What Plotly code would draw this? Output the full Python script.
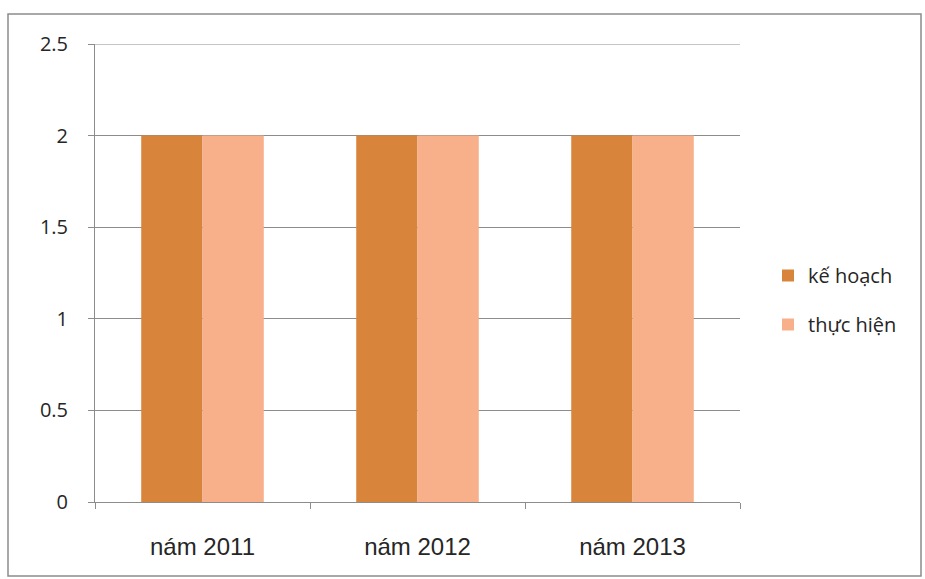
import plotly.graph_objects as go

categories = ["nám 2011", "nám 2012", "nám 2013"]
ke_hoach = [2, 2, 2]
thuc_hien = [2, 2, 2]
y_ticks = [0, 0.5, 1, 1.5, 2, 2.5]
y_tick_labels = ["0", "0.5", "1", "1.5", "2", "2.5"]

fig = go.Figure()
fig.add_trace(go.Bar(x=categories, y=ke_hoach, name="kế hoạch",
                     marker=dict(color="#D9843B", line=dict(width=0)),
                     legendgroup="a"))
fig.add_trace(go.Bar(x=categories, y=thuc_hien, name="thực hiện",
                     marker=dict(color="#F7B08A", line=dict(width=0)),
                     legendgroup="b"))

L, R, T, B = 95, 740, 44, 502
W, H = 925, 579
pw, ph = R - L, B - T

def px(x):
    return (x - L) / pw

def py(y):
    return (B - y) / ph

fig.update_layout(
    width=W, height=H,
    margin=dict(l=L, r=W - R, t=T, b=H - B, pad=0),
    paper_bgcolor="white", plot_bgcolor="white",
    barmode="group", bargap=0.43, bargroupgap=0,
    font=dict(family="Liberation Sans, Arial", color="#262626"),
    showlegend=True,
    legend=dict(x=px(768), y=py(300), xanchor="left", yanchor="middle",
                font=dict(size=20, family="Open Sans", color="#262626"),
                traceorder="grouped", tracegroupgap=20,
                itemwidth=30, bgcolor="rgba(0,0,0,0)"),
    xaxis=dict(showline=True, linecolor="#8C8C8C", linewidth=1,
               ticks="outside", tickson="boundaries", ticklen=6,
               tickcolor="#8C8C8C",
               tickfont=dict(size=24, family="Liberation Sans, Arial", color="#262626"),
               showgrid=False, ticklabelstandoff=23),
    yaxis=dict(range=[0, 2.5], tickvals=y_ticks, ticktext=y_tick_labels,
               showline=True, linecolor="#8C8C8C", linewidth=1,
               ticks="outside", ticklen=6, tickcolor="#8C8C8C",
               showgrid=True, gridcolor="#8C8C8C", gridwidth=1,
               zeroline=False,
               tickfont=dict(size=20, family="Open Sans", color="#262626"),
               ticklabelstandoff=16),
    shapes=[dict(type="rect", xref="paper", yref="paper",
                 x0=px(8), x1=px(921), y0=py(576), y1=py(14),
                 line=dict(color="#8C8C8C", width=1.5), layer="below"),
            dict(type="line", xref="paper", yref="y",
                 x0=0, x1=1, y0=y_ticks[-1], y1=y_ticks[-1],
                 line=dict(color="#8C8C8C", width=1), layer="below")],
)

fig.write_html("out.html")
